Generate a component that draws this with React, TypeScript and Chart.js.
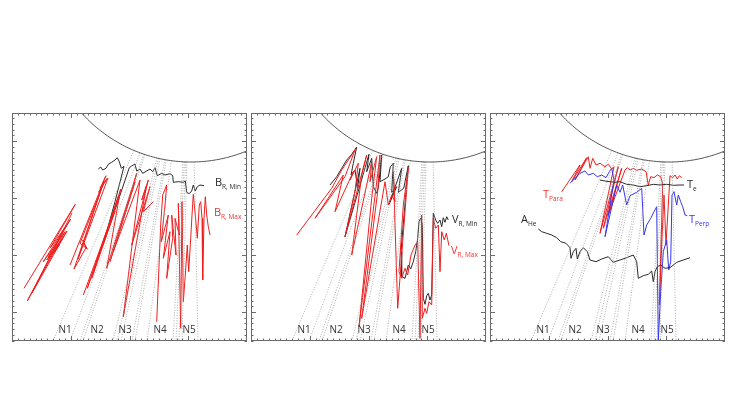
import { useEffect, useRef } from "react";
import { Chart, registerables } from "chart.js";
Chart.register(...registerables);

type P = [number, number];

// ---- geometry of each panel (data units) ----
const X_MAX = 235;
const Y_MAX = 228;
const X_MINOR = 5.875;
const Y_MINOR = 5.7;
const Y_MAJOR_OFFSET = 29;
const SUN = { cx: 179, cy: 325.5, r: 146.5 };
const FIELD_LINE_FOOT_X = [41, 58, 68, 71, 101, 105, 109, 120, 123, 135, 161, 164, 167, 170, 186];
const ENCOUNTERS = ["N1", "N2", "N3", "N4", "N5"];
const ENCOUNTER_X = [53, 85, 113, 148, 177];
const ENCOUNTER_Y = 11;

// ---- panel 1 : magnetic field ----
const B_R_MIN: P[][] = [[
  [86.3, 172], [88.7, 174], [90.7, 171], [94, 172.7], [96.3, 176.7], [99.7, 178.7], [103, 181], [105.3, 183.3],
  [107.3, 179.3], [109.3, 172.7], [112, 174.7], [103, 139.3], [92, 99.3], [104.7, 136], [117.3, 173.3], [119.7, 175],
  [123, 177], [124.7, 170], [128, 172], [130.7, 167.7], [134.7, 170], [138, 172], [140.7, 169.3], [143, 173.3],
  [145.3, 165.3], [149.7, 167.7], [153, 166], [158, 167.3], [160.7, 165.3], [161.3, 158.7], [166.3, 159.3],
  [171.3, 158.7], [173.3, 160], [174.7, 148.7], [177.3, 147.3], [179.7, 150], [181.3, 156], [183.3, 150],
  [185.3, 154.3], [188, 156], [192, 155.3],
]];
const B_R_MAX: P[][] = [
  [
    [12, 52.7], [63.3, 136.7], [38, 92.7], [54.7, 116], [15.3, 40], [53, 109.3], [31.3, 79.3], [58.7, 122],
    [36.3, 84.3], [50.7, 102.7], [34.7, 81], [47.3, 96], [41.3, 87.7], [55, 110], [20, 48], [60, 128],
  ],
  [
    [58, 76], [94, 165.3], [88, 152.7], [95.3, 162.7], [86.7, 148.7], [92, 158.7], [68, 97.7], [75.3, 92],
    [70.7, 101], [74, 93.3], [62, 72], [92, 160], [66, 82], [96, 163],
  ],
  [
    [71.3, 46], [105.3, 139.3], [75.3, 52.7], [106.7, 145.3], [79.7, 62.7], [103, 130], [84.7, 79.3], [108.7, 152],
    [94.7, 72.7], [124.7, 167.7], [120.7, 152.7], [98, 79.3], [123, 159.3], [101.3, 89.3], [128, 161],
    [111.3, 24.3], [134.7, 156], [129.7, 141], [136.3, 161], [119.7, 96], [138, 154.3], [131.3, 129.3],
    [141.3, 139.3],
  ],
  [
    [144.7, 19.3], [148.7, 116], [150.7, 146], [154.7, 156], [153, 136], [149.3, 99.3], [156.3, 126], [151.3, 82.7],
    [158, 109.3], [154.7, 62.7], [160.7, 102.7], [159.7, 126], [164, 86], [163, 122.7], [167.3, 106],
    [166.3, 137.7], [168.7, 12.7], [170, 139.3], [171.3, 39.3], [173.3, 66], [175.3, 96], [176.7, 69.3],
    [178.7, 102.7], [180, 126], [181.3, 146.7], [183.3, 126], [185.3, 102.7], [187.3, 136], [188.7, 139.3],
    [190, 122.7], [190.7, 61], [192, 122.7], [193.3, 144.3], [194.7, 126], [196.3, 114.3], [198, 106],
  ],
];

// ---- panel 2 : radial velocity ----
const V_R_MIN: P[][] = [[
  [79, 156], [85.7, 164.3], [90.7, 172.7], [95.7, 181], [100.7, 186.7], [105.7, 194], [102.3, 177.7], [100, 166],
  [104, 171], [106.7, 152.7], [109, 172.7], [94, 104.3], [118, 186.7], [115.7, 169.3], [120.7, 182.7],
  [122.3, 154.3], [125.7, 147.7], [127.3, 153.3], [130.7, 186], [129, 159.3], [134, 162], [137.3, 164.3],
  [139.3, 174.3], [142.3, 177.7], [140.7, 148.7], [145.7, 154.3], [138, 136.7], [150.7, 172.7], [147.3, 148.7],
  [152.7, 152.7], [157.3, 175.3], [154.7, 146], [150, 89.3], [150.7, 64.3], [154, 62.7], [157.3, 76],
  [159.7, 72], [162.3, 79.3], [164.7, 89.3], [166.7, 102.7], [168, 119.3], [169.7, 122.7], [171.3, 116.7],
  [172.3, 42.7], [174, 36.7], [175.7, 45.3], [177.3, 47.7], [179, 41], [180.7, 46], [182.3, 127.7],
  [184.7, 121], [186.7, 117.7], [189, 121], [190.7, 114.3], [192.3, 123.3], [194, 118.7], [195.7, 124.3],
  [197.3, 121],
]];
const V_R_MAX: P[][] = [[
  [45.7, 106], [80.7, 152.7], [90.7, 171], [104, 191], [94, 164.3], [64, 122.7], [92.3, 166], [84, 129.3],
  [102.3, 169.3], [99, 161], [107.3, 177.7], [104, 149.3], [94, 104.3], [115.7, 186], [110.7, 166],
  [100.7, 86], [120.7, 179.3], [119, 159.3], [125.7, 184.3], [120.7, 142.7], [108, 14.3], [129, 186],
  [126.7, 149.3], [110.7, 22.7], [134, 159.3], [137.3, 136], [140.7, 146], [144, 139.3], [142.3, 169.3],
  [146.7, 32.7], [157.3, 172.7], [152.3, 136], [148, 69.3], [150.7, 62.7], [154, 72.7], [156.7, 66], [160, 86],
  [164, 96], [166.7, 99.3], [169, 2.7], [170.7, 126], [171.3, 22.7], [174, 32.7], [175.7, 27.7], [178, 39.3],
  [180.7, 36], [182.3, 122.7], [184.7, 112.7], [187.3, 116], [189, 69.3], [190.7, 109.3], [193.3, 101],
  [195.3, 107.7], [198, 95.3],
]];

// ---- panel 3 : temperatures and helium abundance ----
const T_PARA: P[][] = [[
  [71.7, 149.3], [90, 176], [81.7, 159.3], [96.7, 183.3], [85, 161], [98.3, 184.3], [100, 172.7], [102.7, 182.7],
  [106, 176], [110, 177.7], [115, 174.3], [118.3, 176.7], [121.7, 172], [124, 174.3], [110, 107.7],
  [128.3, 174.3], [113.3, 112.7], [131.7, 172.7], [118.3, 126], [135, 171], [137.3, 173.3], [140, 171],
  [143.3, 172.7], [146.7, 170.7], [151.7, 172], [156, 169.3], [158.3, 156], [160.7, 164.3], [164, 163.3],
  [167.3, 166], [170.7, 164.3], [172.7, 156.7], [169.3, 36], [171.7, 96], [174, 146], [176, 96], [178.3, 136],
  [180, 165.3], [182.7, 163.3], [185, 166], [187.3, 162], [189.3, 165.3], [191.7, 163.3],
]];
const T_PERP: P[][] = [[
  [80, 157.7], [90, 167.7], [95, 170], [98.3, 166], [103.3, 167.7], [107.3, 164.3], [111.7, 166], [116, 163.3],
  [119.3, 169.3], [121.7, 172.7], [124, 161], [115, 104.3], [126.7, 156], [130, 148.7], [132.7, 156],
  [136.7, 136], [140, 145.3], [146.7, 148.7], [151.7, 152.7], [154, 106], [156.7, 116], [160.7, 122.7],
  [164, 129.3], [166.7, 134.3], [168.3, 0.7], [170.7, 49.3], [173.3, 89.3], [176.7, 101], [178.7, 71],
  [180.7, 79.3], [182, 146], [184, 149.3], [186.7, 136], [188.3, 146], [190.7, 139.3], [192.7, 134.3],
  [195, 126], [197.3, 125.3],
]];
const T_E: P[][] = [[
  [110, 161], [115, 160], [120, 159.3], [125, 158.7], [130, 159.3], [136.7, 156.7], [143.3, 156], [150, 154.3],
  [156.7, 155.3], [163.3, 156.7], [170, 156], [176.7, 156.7], [183.3, 155.7], [190, 156], [194, 156],
]];
const A_HE: P[][] = [[
  [48.3, 112], [51.7, 109.3], [56.7, 107.7], [61.7, 106], [66.7, 103.3], [70.7, 99.3], [76, 97.7], [80, 93.3],
  [81, 82.7], [83.3, 89.3], [86, 92.7], [87.3, 82], [90, 89.3], [93.3, 93.3], [97.3, 89.3], [100, 81],
  [106, 79.3], [111.7, 82], [118.3, 84.3], [123.3, 78.7], [130, 81], [136.7, 83.3], [143.3, 86], [146.7, 79.3],
  [148.3, 62.7], [153.3, 65.3], [158.3, 66.7], [161.7, 70], [163.3, 59.3], [165, 69.3], [167.3, 74.3],
  [170.7, 76], [175, 72.7], [180, 73.3], [186.7, 78.7], [193.3, 81], [200, 83.3],
]];

const RED = "#f01e1e";
const BLUE = "#3434f2";
const BLACK = "#2a2a2a";

type Label = { main: string; sub: string; x: number; y: number; color: string };
type Series = { data: P[][]; color: string };
type Panel = { left: number; series: Series[]; labels: Label[] };

const PANELS: Panel[] = [
  {
    left: 12,
    series: [{ data: B_R_MAX, color: RED }, { data: B_R_MIN, color: BLACK }],
    labels: [
      { main: "B", sub: "R, Min", x: 203, y: 158, color: BLACK },
      { main: "B", sub: "R, Max", x: 202, y: 128, color: "#ee3434" },
    ],
  },
  {
    left: 251,
    series: [{ data: V_R_MAX, color: RED }, { data: V_R_MIN, color: BLACK }],
    labels: [
      { main: "V", sub: "R, Min", x: 201, y: 121, color: BLACK },
      { main: "V", sub: "R, Max", x: 200, y: 90, color: "#ee3434" },
    ],
  },
  {
    left: 490,
    series: [
      { data: A_HE, color: BLACK },
      { data: T_E, color: BLACK },
      { data: T_PERP, color: BLUE },
      { data: T_PARA, color: RED },
    ],
    labels: [
      { main: "T", sub: "Para", x: 53, y: 146, color: "#ee3434" },
      { main: "T", sub: "e", x: 197, y: 156, color: BLACK },
      { main: "T", sub: "Perp", x: 199, y: 121, color: BLUE },
      { main: "A", sub: "He", x: 31, y: 121, color: BLACK },
    ],
  },
];

const TOP = 113;
const PAD = 3;

function sunArc() {
  const pts: { x: number; y: number }[] = [];
  for (let a = -85; a <= 85; a += 1) {
    const t = (a * Math.PI) / 180;
    pts.push({ x: SUN.cx + SUN.r * Math.sin(t), y: SUN.cy - SUN.r * Math.cos(t) });
  }
  return pts;
}

function fieldLine(xFoot: number) {
  const dx = xFoot - SUN.cx;
  const dy = 0 - SUN.cy;
  const L = Math.hypot(dx, dy);
  return [
    { x: SUN.cx + (SUN.r * dx) / L, y: SUN.cy + (SUN.r * dy) / L },
    { x: xFoot, y: 0 },
  ];
}

const framePlugin = {
  id: "frame",
  afterDatasetsDraw(chart: any, _a: any, opts: any) {
    const { ctx, chartArea: ca, scales } = chart;
    const xs = scales.x;
    const ys = scales.y;
    ctx.save();
    ctx.strokeStyle = "#6a6a6a";
    ctx.lineWidth = 1;
    ctx.strokeRect(ca.left + 0.5, ca.top + 0.5, ca.right - ca.left - 1, ca.bottom - ca.top - 1);
    ctx.beginPath();
    for (let k = 1; k * X_MINOR < X_MAX - 0.1; k++) {
      const px = Math.round(xs.getPixelForValue(k * X_MINOR)) + 0.5;
      const len = k % 10 === 0 ? 5 : 2.5;
      ctx.moveTo(px, ca.top);
      ctx.lineTo(px, ca.top + len);
      ctx.moveTo(px, ca.bottom);
      ctx.lineTo(px, ca.bottom - len);
    }
    for (let k = -5; Y_MAJOR_OFFSET + k * Y_MINOR < Y_MAX - 0.1; k++) {
      const v = Y_MAJOR_OFFSET + k * Y_MINOR;
      if (v <= 0.1) continue;
      const py = Math.round(ys.getPixelForValue(v)) + 0.5;
      const len = k % 10 === 0 ? 5 : 2.5;
      ctx.moveTo(ca.left, py);
      ctx.lineTo(ca.left + len, py);
      ctx.moveTo(ca.right, py);
      ctx.lineTo(ca.right - len, py);
    }
    ctx.stroke();

    // encounter labels
    ctx.fillStyle = "#333";
    ctx.font = '10px "Open Sans"';
    ctx.textAlign = "center";
    ctx.textBaseline = "middle";
    ENCOUNTERS.forEach((n, i) => {
      ctx.fillText(n, xs.getPixelForValue(ENCOUNTER_X[i]), ys.getPixelForValue(ENCOUNTER_Y));
    });

    // series labels
    ctx.textAlign = "left";
    (opts.labels as Label[]).forEach((l) => {
      const px = xs.getPixelForValue(l.x);
      const py = ys.getPixelForValue(l.y);
      ctx.fillStyle = l.color;
      ctx.font = '11px "Open Sans"';
      ctx.fillText(l.main, px, py);
      const w = ctx.measureText(l.main).width;
      ctx.font = '6.5px "Open Sans"';
      ctx.fillText(l.sub, px + w, py + 4);
    });
    ctx.restore();
  },
};

function PanelChart({ panel }: { panel: Panel }) {
  const ref = useRef<HTMLCanvasElement>(null);
  useEffect(() => {
    if (!ref.current) return;
    const line = (data: { x: number; y: number }[], color: string, width = 1, dash: number[] = []) => ({
      data,
      showLine: true,
      borderColor: color,
      borderWidth: width,
      borderDash: dash,
      pointRadius: 0,
      fill: false,
      tension: 0,
      clip: 0,
    });
    const datasets: any[] = [];
    datasets.push(line(sunArc(), "#555", 1));
    FIELD_LINE_FOOT_X.forEach((xf) => datasets.push(line(fieldLine(xf), "#9a9a9a", 0.8, [1, 1.6])));
    panel.series.forEach((s) =>
      s.data.forEach((seg) => datasets.push(line(seg.map(([x, y]) => ({ x, y })), s.color, 1)))
    );
    const chart = new Chart(ref.current, {
      type: "scatter",
      data: { datasets },
      options: {
        animation: false,
        responsive: false,
        events: [],
        layout: { padding: PAD },
        plugins: {
          legend: { display: false },
          tooltip: { enabled: false },
          frame: { labels: panel.labels },
        } as any,
        scales: {
          x: { type: "linear", min: 0, max: X_MAX, display: false },
          y: { type: "linear", min: 0, max: Y_MAX, display: false },
        },
      },
      plugins: [framePlugin],
    });
    return () => chart.destroy();
  }, [panel]);
  const w = X_MAX + 2 * PAD;
  const h = Y_MAX + 2 * PAD;
  return (
    <canvas
      ref={ref}
      width={w}
      height={h}
      style={{ position: "absolute", left: panel.left - PAD, top: TOP - PAD, width: w, height: h }}
    />
  );
}

export default function App() {
  return (
    <div style={{ position: "absolute", left: 0, top: 0, width: 746, height: 393, background: "#fff" }}>
      {PANELS.map((p, i) => (
        <PanelChart key={i} panel={p} />
      ))}
    </div>
  );
}
